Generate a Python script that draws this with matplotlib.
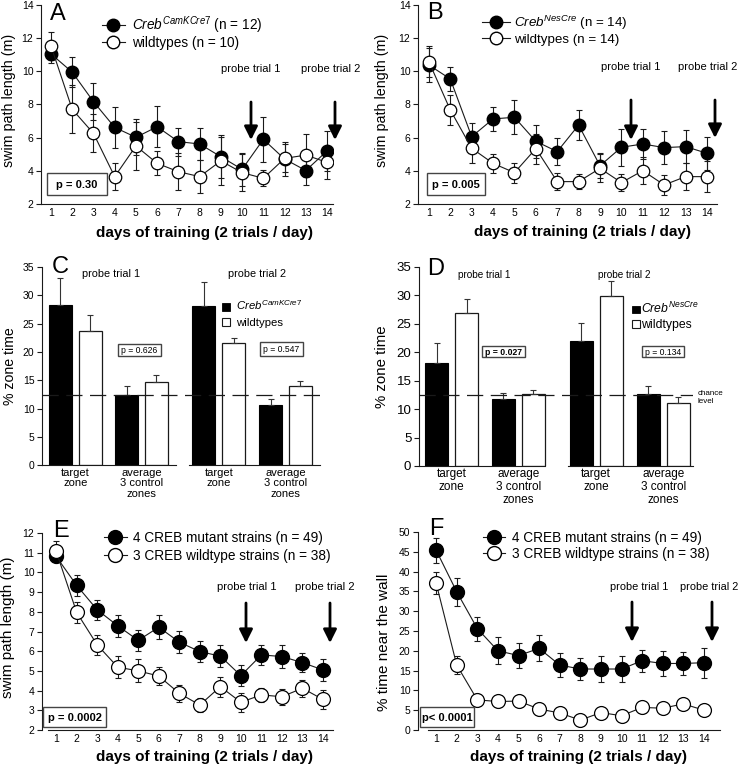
import matplotlib
matplotlib.use("Agg")
import matplotlib.pyplot as plt
from matplotlib.patches import Rectangle
from matplotlib.lines import Line2D
import numpy as np

plt.rcParams['font.family'] = ['Liberation Sans', 'DejaVu Sans']
plt.rcParams['mathtext.fontset'] = 'custom'
plt.rcParams['mathtext.rm'] = 'Liberation Sans'
plt.rcParams['mathtext.it'] = 'Liberation Sans:italic'
plt.rcParams['mathtext.bf'] = 'Liberation Sans:bold'

W, H = 740, 765
DAYS = np.arange(1, 15)

# ---- A: Creb CamKCre7 swim path (m)
A_MUT = [11.05, 9.95, 8.17, 6.62, 6.02, 6.66, 5.76, 5.62, 4.85, 4.09, 5.9, 4.71, 4.02, 5.2]
A_MUT_ERR = [0.57, 0.9, 1.1, 1.24, 1.08, 1.25, 0.85, 0.95, 1.3, 1.0, 1.36, 1.0, 0.86, 1.2]
A_WT = [11.53, 7.71, 6.26, 3.65, 5.5, 4.45, 3.95, 3.65, 4.6, 3.89, 3.55, 4.75, 4.95, 4.51]
A_WT_ERR = [0.82, 1.45, 1.15, 0.82, 1.42, 0.73, 1.1, 1.0, 1.45, 1.1, 0.48, 0.85, 1.3, 1.0]

# ---- B: Creb NesCre swim path (m)
B_MUT = [10.38, 9.54, 6.06, 7.13, 7.23, 5.78, 5.16, 6.76, 4.31, 5.42, 5.62, 5.4, 5.46, 5.06]
B_MUT_ERR = [1.0, 0.73, 0.82, 0.7, 1.02, 1.0, 0.8, 0.92, 0.75, 1.1, 0.9, 0.98, 1.0, 1.0]
B_WT = [10.58, 7.67, 5.36, 4.45, 3.89, 5.34, 3.35, 3.35, 4.15, 3.29, 4.01, 3.15, 3.65, 3.65]
B_WT_ERR = [0.95, 0.9, 0.88, 0.56, 0.6, 0.9, 0.53, 0.47, 0.85, 0.49, 0.8, 0.62, 0.8, 0.93]

# ---- C / D: % zone time (target zone, avg control zones) x (probe 1, probe 2)
ZONES = ["target\nzone", "average\n3 control\nzones", "target\nzone", "average\n3 control\nzones"]
C_MUT = [28.3, 12.35, 28.05, 10.7]
C_MUT_ERR = [4.75, 1.6, 4.3, 0.95]
C_WT = [23.7, 14.8, 21.6, 14.0]
C_WT_ERR = [2.75, 1.15, 0.85, 0.95]
D_MUT = [18.2, 11.7, 21.9, 12.7]
D_MUT_ERR = [3.4, 1.1, 3.2, 1.4]
D_WT = [26.9, 12.7, 29.9, 11.0]
D_WT_ERR = [2.4, 0.7, 2.6, 1.05]
CHANCE = 12.5

# ---- E: all strains swim path (m)
E_MUT = [10.81, 9.34, 8.1, 7.29, 6.55, 7.22, 6.46, 5.98, 5.75, 4.76, 5.81, 5.73, 5.42, 5.05]
E_MUT_ERR = [0.3, 0.55, 0.52, 0.55, 0.55, 0.62, 0.57, 0.53, 0.57, 0.55, 0.53, 0.6, 0.5, 0.55]
E_WT = [11.07, 7.97, 6.32, 5.19, 5.0, 4.74, 3.86, 3.27, 4.2, 3.41, 3.78, 3.69, 4.12, 3.55]
E_WT_ERR = [0.5, 0.55, 0.5, 0.55, 0.58, 0.45, 0.44, 0.34, 0.5, 0.48, 0.34, 0.4, 0.43, 0.47]

# ---- F: % time near the wall
F_MUT = [45.4, 34.9, 25.6, 20.0, 18.8, 20.6, 16.4, 15.4, 15.4, 15.4, 17.5, 16.8, 16.8, 17.0]
F_MUT_ERR = [3.2, 3.5, 3.0, 3.4, 3.2, 3.3, 3.1, 2.8, 3.3, 3.3, 2.8, 3.2, 3.0, 3.8]
F_WT = [37.1, 16.4, 7.6, 7.2, 7.3, 5.3, 4.3, 2.5, 4.4, 3.6, 5.7, 5.5, 6.6, 5.0]
F_WT_ERR = [2.7, 2.3, 1.6, 1.5, 1.5, 0.8, 0.6, 0.5, 0.6, 0.6, 1.3, 0.8, 1.0, 0.7]

INK = '#1a1a1a'

fig = plt.figure(figsize=(W / 100, H / 100), dpi=100)


def fx(x):
	return x / W


def fy(y):
	return 1 - y / H


def add_ax(l, t, r, b):
	return fig.add_axes([l / W, 1 - b / H, (r - l) / W, (b - t) / H])


def style(ax, fs):
	for s in ['top', 'right']:
		ax.spines[s].set_visible(False)
	for s in ['left', 'bottom']:
		ax.spines[s].set_linewidth(0.8)
		ax.spines[s].set_color(INK)
	ax.tick_params(axis='y', direction='out', length=3.5, width=0.8, pad=2, labelsize=fs, color=INK)
	ax.tick_params(axis='x', length=0, pad=3, labelsize=fs)


def line_panel(ax, mut, mut_e, wt, wt_e, ms):
	ek = dict(fmt='none', ecolor=INK, elinewidth=0.8, capsize=2.5, capthick=0.8, zorder=2)
	ax.errorbar(DAYS, mut, yerr=mut_e, **ek)
	ax.errorbar(DAYS, wt, yerr=wt_e, **ek)
	ax.plot(DAYS, mut, '-o', color=INK, lw=0.8, mfc='black', mec='black', ms=ms, zorder=3)
	ax.plot(DAYS, wt, '-o', color=INK, lw=0.8, mfc='white', mec='black', mew=0.9, ms=ms, zorder=4)
	ax.set_xticks(DAYS)


def legend_rows(x0, x1, tx, ys, labels, fs, ms):
	for y, lab, fc in zip(ys, labels, ['black', 'white']):
		xm = (x0 + x1) / 2
		fig.add_artist(Line2D([fx(x0), fx(xm), fx(x1)], [fy(y)] * 3, transform=fig.transFigure,
							  color=INK, lw=0.8, marker='o', markevery=[1], mfc=fc, mec='black', ms=ms))
		fig.text(fx(tx), fy(y + 0.36 * fs * 100 / 72), lab, fontsize=fs, va='baseline', ha='left')


def arrow(x, y0, y1):
	fig.add_artist(matplotlib.patches.FancyArrowPatch(
		(fx(x), fy(y0)), (fx(x), fy(y1)), transform=fig.transFigure,
		arrowstyle='-|>,head_length=0.4,head_width=0.2', mutation_scale=20,
		lw=2, color='black', shrinkA=0, shrinkB=0))


def pbox(x0, y0, x1, y1, txt, fs, bold):
	fig.add_artist(Rectangle((fx(x0), fy(y1)), (x1 - x0) / W, (y1 - y0) / H, transform=fig.transFigure,
							 fc='white', ec='#444444', lw=1.0))
	fig.text(fx((x0 + x1) / 2), fy((y0 + y1) / 2), txt, ha='center', va='center_baseline', fontsize=fs,
			 fontweight='bold' if bold else 'normal')


def ctext(x, y, s, fs, **kw):
	fig.text(fx(x), fy(y), s, fontsize=fs, ha='center', va='center', **kw)


POS = np.array([0, 2.22, 4.81, 7.05])


def bar_panel(ax, mut, mut_e, wt, wt_e, xlim, brk, fs_tick, fs_cat):
	ek = dict(ecolor='#333333', elinewidth=0.8, capsize=2.2, capthick=0.8)
	ax.bar(POS - 0.5, mut, width=0.77, color='black', edgecolor='black', lw=0.8,
		   yerr=[np.zeros(4), mut_e], error_kw=ek)
	ax.bar(POS + 0.5, wt, width=0.77, color='white', edgecolor=INK, lw=0.9,
		   yerr=[np.zeros(4), wt_e], error_kw=ek)
	ax.axhline(CHANCE, color=INK, lw=0.9, ls=(0, (13, 6)), zorder=5)
	ax.set_xlim(*xlim)
	ax.set_ylim(0, 35)
	ax.set_yticks(np.arange(0, 36, 5))
	style(ax, fs_tick)
	ax.set_xticks(POS)
	ax.set_xticklabels(ZONES, fontsize=fs_cat, linespacing=1.1)
	ax.tick_params(axis='x', pad=1.5)
	ax.spines['bottom'].set_bounds(xlim[0], brk[0])
	ax.plot([brk[1], xlim[1]], [0, 0], color=INK, lw=0.8, clip_on=False, zorder=6)


# ----------------------------------- A -----------------------------------
axA = add_ax(41, 5, 333, 204)
line_panel(axA, A_MUT, A_MUT_ERR, A_WT, A_WT_ERR, 9)
axA.set_xlim(0.53, 14.28)
axA.set_ylim(2, 14)
axA.set_yticks(np.arange(2, 15, 2))
style(axA, 7.5)
fig.text(fx(50), fy(20), 'A', fontsize=17, va='baseline')
legend_rows(102, 125, 132, [25, 42], [r'$\mathit{Creb}^{\mathit{CamKCre7}}$ (n = 12)', 'wildtypes (n = 10)'], 9.8, 9)
ctext(251, 69, 'probe trial 1', 8)
ctext(331, 69, 'probe trial 2', 8)
arrow(251, 102, 140)
arrow(335, 102, 140)
pbox(47, 173, 107, 195, 'p = 0.30', 8, True)
ctext(205, 233, 'days of training (2 trials / day)', 11, fontweight='bold')
ctext(9, 100, 'swim path length (m)', 10.3, rotation=90)

# ----------------------------------- B -----------------------------------
axB = add_ax(418, 5, 717, 204)
line_panel(axB, B_MUT, B_MUT_ERR, B_WT, B_WT_ERR, 9)
axB.set_xlim(0.49, 14.47)
axB.set_ylim(2, 14)
axB.set_yticks(np.arange(2, 15, 2))
style(axB, 7.5)
fig.text(fx(427), fy(19), 'B', fontsize=17, va='baseline')
legend_rows(482, 510, 514, [22, 38], [r'$\mathit{Creb}^{\mathit{NesCre}}$ (n = 14)', 'wildtypes (n = 14)'], 9.6, 9)
ctext(631, 67, 'probe trial 1', 8)
ctext(708, 67, 'probe trial 2', 8)
arrow(631, 100, 140)
arrow(715, 100, 138)
pbox(427, 173, 485, 195, 'p = 0.005', 8, True)
ctext(583, 232, 'days of training (2 trials / day)', 11, fontweight='bold')
ctext(382, 100, 'swim path length (m)', 10.3, rotation=90)

# ----------------------------------- C -----------------------------------
axC = add_ax(42, 267, 320, 465.5)
bar_panel(axC, C_MUT, C_MUT_ERR, C_WT, C_WT_ERR, (-1.12, 8.21), (3.39, 3.8), 7.5, 8)
fig.text(fx(52), fy(273), 'C', fontsize=17, va='baseline')
ctext(111, 274, 'probe trial 1', 7.8)
ctext(257, 274, 'probe trial 2', 7.8)
pbox(118, 344, 161, 356, 'p = 0.626', 6.2, False)
pbox(260, 342, 303, 356, 'p = 0.547', 6.2, False)
fig.add_artist(Rectangle((fx(222), fy(310.5)), 8 / W, 8 / H, transform=fig.transFigure, fc='black', ec='black', lw=0.6))
fig.add_artist(Rectangle((fx(222), fy(326)), 8 / W, 8 / H, transform=fig.transFigure, fc='white', ec=INK, lw=0.8))
fig.text(fx(236), fy(310.5), r'$\mathit{Creb}^{\mathit{CamKCre7}}$', fontsize=8.2, va='baseline')
fig.text(fx(236), fy(326), 'wildtypes', fontsize=8.2, va='baseline')
ctext(10, 366, '% zone time', 10.2, rotation=90)

# ----------------------------------- D -----------------------------------
axD = add_ax(419, 267, 693, 466)
bar_panel(axD, D_MUT, D_MUT_ERR, D_WT, D_WT_ERR, (-1.09, 8.04), (3.1, 3.88), 9.5, 8.5)
fig.text(fx(427), fy(275), 'D', fontsize=17, va='baseline')
ctext(484, 275, 'probe trial 1', 7.2)
ctext(624.5, 275, 'probe trial 2', 7.2)
pbox(482, 346, 525, 357, 'p = 0.027', 6.2, True)
pbox(642, 346, 684, 357, 'p = 0.134', 6.2, False)
fig.add_artist(Rectangle((fx(632), fy(313)), 7.5 / W, 7.5 / H, transform=fig.transFigure, fc='black', ec='black', lw=0.6))
fig.add_artist(Rectangle((fx(632), fy(327.5)), 7.5 / W, 7.5 / H, transform=fig.transFigure, fc='white', ec=INK, lw=0.8))
fig.text(fx(641), fy(313), r'$\mathit{Creb}^{\mathit{NesCre}}$', fontsize=8.8, va='baseline')
fig.text(fx(641), fy(328), 'wildtypes', fontsize=8.8, va='baseline')
fig.text(fx(698), fy(397), 'chance\nlevel', fontsize=5.8, va='center', ha='left', linespacing=1.2)
ctext(382, 367, '% zone time', 10.8, rotation=90)

# ----------------------------------- E -----------------------------------
axE = add_ax(42, 533, 333, 730)
line_panel(axE, E_MUT, E_MUT_ERR, E_WT, E_WT_ERR, 10)
axE.set_xlim(0.31, 14.49)
axE.set_ylim(2, 12)
axE.set_yticks(np.arange(2, 13, 1))
style(axE, 7.5)
axE.spines['bottom'].set_bounds(0.61, 14.49)
fig.text(fx(53), fy(537), 'E', fontsize=17, va='baseline')
legend_rows(104, 127, 133, [537, 555], ['4 CREB mutant strains (n = 49)', '3 CREB wildtype strains (n = 38)'], 9.8, 10)
ctext(247, 587, 'probe trial 1', 8.1)
ctext(325, 587, 'probe trial 2', 8.1)
arrow(246, 603, 643)
arrow(330, 603, 643)
pbox(43, 707, 106, 727, 'p = 0.0002', 8, True)
ctext(205, 757, 'days of training (2 trials / day)', 11, fontweight='bold')
ctext(8, 627, 'swim path length (m)', 11, rotation=90)

# ----------------------------------- F -----------------------------------
axF = add_ax(418, 532, 720, 730)
line_panel(axF, F_MUT, F_MUT_ERR, F_WT, F_WT_ERR, 10)
axF.set_xlim(0.12, 14.78)
axF.set_ylim(0, 50)
axF.set_yticks(np.arange(0, 51, 5))
style(axF, 7.5)
axF.spines['bottom'].set_bounds(0.59, 14.78)
fig.text(fx(429), fy(535), 'F', fontsize=17, va='baseline')
legend_rows(483, 505, 512, [537, 553], ['4 CREB mutant strains (n = 49)', '3 CREB wildtype strains (n = 38)'], 9.8, 10)
ctext(639, 587, 'probe trial 1', 7.9)
ctext(709, 587, 'probe trial 2', 7.9)
arrow(632, 602, 642)
arrow(712, 602, 642)
pbox(420, 707, 474, 727, 'p< 0.0001', 8, True)
ctext(578, 757, 'days of training (2 trials / day)', 11, fontweight='bold')
ctext(384, 642, '% time near the wall', 11, rotation=90)

fig.savefig('out.png', dpi=100)
